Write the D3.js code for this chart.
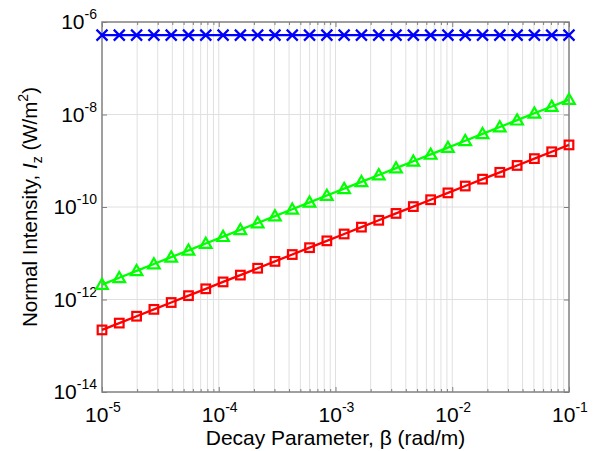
<!DOCTYPE html>
<html>
<head>
<meta charset="utf-8">
<script src="https://cdn.jsdelivr.net/npm/d3@7"></script>
<style>
  body { margin: 0; background: #fff; }
  svg { display: block; font-family: "Liberation Sans", Arial, sans-serif; }
</style>
</head>
<body>
<svg id="chart" width="594" height="451"></svg>
<script>
// ---- data ----
const beta = [1.000e-5, 1.406e-5, 1.978e-5, 2.783e-5, 3.915e-5, 5.505e-5, 7.743e-5,
  1.089e-4, 1.532e-4, 2.154e-4, 3.030e-4, 4.262e-4, 5.995e-4, 8.433e-4,
  1.186e-3, 1.668e-3, 2.346e-3, 3.300e-3, 4.642e-3, 6.528e-3, 9.183e-3,
  1.292e-2, 1.817e-2, 2.555e-2, 3.594e-2, 5.055e-2, 7.110e-2, 1.000e-1];
const blueSeries = [5.2e-7, 5.2e-7, 5.2e-7, 5.2e-7, 5.2e-7, 5.2e-7, 5.2e-7,
  5.2e-7, 5.2e-7, 5.2e-7, 5.2e-7, 5.2e-7, 5.2e-7, 5.2e-7,
  5.2e-7, 5.2e-7, 5.2e-7, 5.2e-7, 5.2e-7, 5.2e-7, 5.2e-7,
  5.2e-7, 5.2e-7, 5.2e-7, 5.2e-7, 5.2e-7, 5.2e-7, 5.2e-7];
const greenSeries = [2.10e-12, 2.95e-12, 4.16e-12, 5.84e-12, 8.22e-12, 1.156e-11, 1.626e-11,
  2.287e-11, 3.22e-11, 4.52e-11, 6.36e-11, 8.95e-11, 1.259e-10, 1.771e-10,
  2.49e-10, 3.50e-10, 4.93e-10, 6.93e-10, 9.75e-10, 1.371e-9, 1.928e-9,
  2.71e-9, 3.82e-9, 5.37e-9, 7.55e-9, 1.062e-8, 1.493e-8, 2.10e-8];
const redSeries = [2.20e-13, 3.09e-13, 4.35e-13, 6.12e-13, 8.61e-13, 1.211e-12, 1.703e-12,
  2.40e-12, 3.37e-12, 4.74e-12, 6.67e-12, 9.38e-12, 1.319e-11, 1.855e-11,
  2.61e-11, 3.67e-11, 5.16e-11, 7.26e-11, 1.021e-10, 1.436e-10, 2.02e-10,
  2.84e-10, 4.00e-10, 5.62e-10, 7.91e-10, 1.112e-9, 1.564e-9, 2.20e-9];
const xTickExp = [-5, -4, -3, -2, -1];
const yTickExp = [-14, -12, -10, -8, -6];

// ---- layout ----
const svg = d3.select("#chart");
const m = { left: 102, top: 22, right: 25, bottom: 59 };
const W = 594 - m.left - m.right, H = 451 - m.top - m.bottom;
const g = svg.append("g").attr("transform", `translate(${m.left},${m.top})`);

const x = d3.scaleLog().domain([1e-5, 1e-1]).range([0, W]);
const y = d3.scaleLog().domain([1e-14, 1e-6]).range([H, 0]);

const axisColor = "#808080", gridColor = "#e0e0e0";

// minor + major x values
const xAll = [];
for (let e = -5; e < -1; e++) for (let k = 1; k < 10; k++) xAll.push(k * Math.pow(10, e));
xAll.push(1e-1);
const xMinor = xAll.filter(v => Math.abs(Math.log10(v) - Math.round(Math.log10(v))) > 1e-9);

// grid
g.append("g").selectAll("line").data(xAll.slice(1, -1)).join("line")
  .attr("x1", d => x(d)).attr("x2", d => x(d)).attr("y1", 0).attr("y2", H)
  .attr("stroke", gridColor).attr("stroke-width", 1);
g.append("g").selectAll("line").data(yTickExp.slice(1, -1)).join("line")
  .attr("x1", 0).attr("x2", W).attr("y1", d => y(Math.pow(10, d))).attr("y2", d => y(Math.pow(10, d)))
  .attr("stroke", gridColor).attr("stroke-width", 1);

// axes with inward ticks (bottom/top/left/right)
function addAxis(axisGen, transform) {
  const a = g.append("g").attr("transform", transform).call(axisGen);
  a.select(".domain").remove();
  a.selectAll("line").attr("stroke", axisColor);
  a.selectAll("text").remove();
  return a;
}
const xMajVals = xTickExp.map(e => Math.pow(10, e));
const yMajVals = yTickExp.map(e => Math.pow(10, e));
addAxis(d3.axisBottom(x).tickValues(xMajVals).tickSize(-5), `translate(0,${H})`);
addAxis(d3.axisBottom(x).tickValues(xMinor).tickSize(-3), `translate(0,${H})`);
addAxis(d3.axisTop(x).tickValues(xMajVals).tickSize(-5), `translate(0,0)`);
addAxis(d3.axisTop(x).tickValues(xMinor).tickSize(-3), `translate(0,0)`);
addAxis(d3.axisLeft(y).tickValues(yMajVals).tickSize(-5), `translate(0,0)`);
addAxis(d3.axisRight(y).tickValues(yMajVals).tickSize(-5), `translate(${W},0)`);

// box
g.append("rect").attr("x", 0).attr("y", 0).attr("width", W).attr("height", H)
  .attr("fill", "none").attr("stroke", axisColor).attr("stroke-width", 1.5);

// tick labels
const xl = g.append("g").selectAll("text").data(xTickExp).join("text")
  .attr("x", d => x(Math.pow(10, d)) + 1).attr("y", H + 30)
  .attr("text-anchor", "middle").attr("font-size", 21).attr("fill", "#000");
xl.append("tspan").text("10");
xl.append("tspan").attr("dy", -10).attr("font-size", 14).text(d => "-" + Math.abs(d));

const yl = g.append("g").selectAll("text").data(yTickExp).join("text")
  .attr("x", -5).attr("y", d => y(Math.pow(10, d)) + 7)
  .attr("text-anchor", "end").attr("font-size", 21).attr("fill", "#000");
yl.append("tspan").text("10");
yl.append("tspan").attr("dy", -10).attr("font-size", 14).text(d => "-" + Math.abs(d));

// axis labels
svg.append("text").attr("x", m.left + W / 2).attr("y", 445)
  .attr("text-anchor", "middle").attr("font-size", 21).attr("fill", "#000")
  .text("Decay Parameter, \u03B2 (rad/m)");

const ylab = svg.append("text")
  .attr("transform", `translate(37,${m.top + H / 2}) rotate(-90)`)
  .attr("text-anchor", "middle").attr("font-size", 20.5).attr("fill", "#000");
ylab.append("tspan").text("Normal Intensity, ");
ylab.append("tspan").attr("font-style", "italic").text("I");
ylab.append("tspan").attr("font-size", 14).attr("dy", 5).text("z");
ylab.append("tspan").attr("dy", -5).text(" (W/m");
ylab.append("tspan").attr("font-size", 14).attr("dy", -9).text("2");
ylab.append("tspan").attr("dy", 9).text(")");

// series
const series = [
  { vals: blueSeries, color: "#0000ff", marker: "x" },
  { vals: greenSeries, color: "#00ff00", marker: "tri" },
  { vals: redSeries, color: "#ff0000", marker: "sq" }
];
const line = d3.line().x(d => x(d[0])).y(d => y(d[1]));
series.forEach(s => {
  const pts = beta.map((b, i) => [b, s.vals[i]]);
  g.append("path").datum(pts).attr("d", line)
    .attr("fill", "none").attr("stroke", s.color).attr("stroke-width", 2.3);
  const mg = g.append("g");
  pts.forEach(p => {
    const px = x(p[0]), py = y(p[1]);
    if (s.marker === "x") {
      const r = 5.5;
      mg.append("path").attr("d", `M${px - r},${py - r}L${px + r},${py + r}M${px - r},${py + r}L${px + r},${py - r}`)
        .attr("stroke", s.color).attr("stroke-width", 2.2).attr("fill", "none");
    } else if (s.marker === "tri") {
      const r = 5.8;
      mg.append("path").attr("d", `M${px},${py - r}L${px + r},${py + r * 0.75}L${px - r},${py + r * 0.75}Z`)
        .attr("stroke", s.color).attr("stroke-width", 2.2).attr("fill", "none");
    } else {
      const r = 4.3;
      mg.append("rect").attr("x", px - r).attr("y", py - r).attr("width", 2 * r).attr("height", 2 * r)
        .attr("stroke", s.color).attr("stroke-width", 2.2).attr("fill", "none");
    }
  });
});
</script>
</body>
</html>
